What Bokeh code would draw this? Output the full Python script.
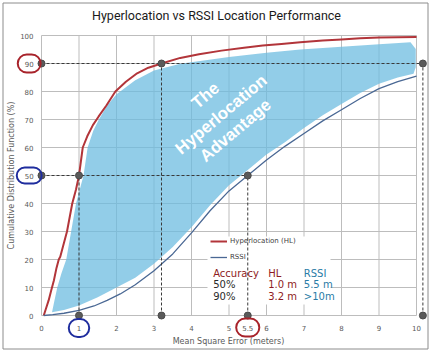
from bokeh.plotting import figure
from bokeh.models import Range1d, Label, Legend, LegendItem
from bokeh.core.properties import value
from bokeh.embed import file_html
from bokeh.resources import INLINE

# ---------------- data ----------------
title_text = "Hyperlocation vs RSSI Location Performance"
x_title = "Mean Square Error (meters)"
y_title = "Cumulative Distribution Function (%)"
x_ticks = [0, 1, 2, 3, 4, 5, 6, 7, 8, 9, 10]
y_ticks = [0, 10, 20, 30, 40, 50, 60, 70, 80, 90, 100]

hl_x = [0.06, 0.12, 0.19, 0.26, 0.33, 0.40, 0.46, 0.50, 0.58, 0.68, 0.75, 0.82, 0.92, 1.00,
        1.05, 1.10, 1.22, 1.37, 1.52, 1.73, 1.97, 2.25, 2.55, 2.85, 3.20, 3.70, 4.20, 4.80,
        5.40, 5.90, 6.40, 6.90, 7.50, 8.00, 8.50, 9.00, 9.50, 10.00]
hl_y = [0, 2.5, 5.4, 9, 12.5, 17, 20, 21, 25, 30, 35, 40, 45, 50,
        55, 60, 64, 68, 71, 75, 80, 83.5, 86.5, 88.5, 90, 92, 93.3, 94.6,
        95.6, 96.4, 97.0, 97.6, 98.2, 98.6, 99.0, 99.3, 99.4, 99.5]

rssi_x = [0.06, 0.30, 0.60, 1.00, 1.40, 1.75, 2.10, 2.50, 3.00, 3.50, 4.00, 4.50, 5.00,
          5.50, 6.00, 6.50, 7.00, 7.50, 8.00, 8.50, 9.00, 9.50, 10.00]
rssi_y = [0, 0.3, 0.8, 1.8, 3.4, 5.4, 7.7, 11, 16, 22, 29.5, 37.5, 44.5,
          50, 55.5, 60.5, 65, 69.5, 73.5, 77.5, 81, 83.5, 85.5]

# "The Hyperlocation Advantage" band: upper/left edge, then lower edge (right to left)
adv_upper_x = [0.28, 0.34, 0.42, 0.53, 0.66, 0.79, 0.92, 1.12, 1.23, 1.38, 1.53, 1.75, 2.00,
               2.50, 3.00, 3.70, 5.00, 6.00, 6.90, 8.00, 9.00, 9.84, 9.98, 9.98, 9.92]
adv_upper_y = [1.2, 5, 10, 15, 20, 30, 40, 50, 60, 66, 70, 75, 79,
               84, 87.5, 89.9, 92.3, 93.8, 95.0, 96.0, 96.9, 97.6, 95.2, 88.7, 86.3]
adv_lower_x = [9.50, 9.00, 8.50, 8.00, 7.50, 7.00, 6.50, 6.00, 5.50, 5.00, 4.50, 4.00,
               3.50, 3.00, 2.50, 2.00, 1.50, 1.00, 0.60]
adv_lower_y = [85.0, 82.8, 79.5, 75.5, 71.5, 67.0, 62.0, 57.5, 52.0, 46.5, 39.5, 31.5,
               24.5, 18.5, 13.5, 10.0, 6.5, 3.6, 2.0]

acc_pct = [50, 90]          # accuracy levels (%)
acc_hl = [1.0, 3.2]         # HL error at those levels (m)
acc_rssi = [5.5, 10.17]     # RSSI error at those levels (m), second is ">10"

table_head = ["Accuracy", "HL", "RSSI"]
table_rows = [["50%", "1.0 m", "5.5 m"], ["90%", "3.2 m", ">10m"]]
band_words = ["The", "Hyperlocation", "Advantage"]

# ---------------- layout helpers (canvas pixel -> data) ----------------
W, H = 431, 351
X0_PX, PX_X = 41.0, 37.5      # x=0 at 41px, 37.5 px per metre
Y0_PX, PX_Y = 315.0, 2.8      # y=0 at 315px, 2.8 px per percent


def dx(px):
    return (px - X0_PX) / PX_X


def dy(py):
    return (Y0_PX - py) / PX_Y


FONT = "DejaVu Sans"
p = figure(width=W, height=H, output_backend="svg", toolbar_location=None,
           x_axis_type=None, y_axis_type=None,
           x_range=Range1d(dx(0), dx(W)), y_range=Range1d(dy(H), dy(0)),
           min_border=0)
p.min_border_left = p.min_border_right = p.min_border_top = p.min_border_bottom = 0
p.outline_line_color = None
p.background_fill_color = "white"
p.border_fill_color = "white"

# outer frame of the chart
p.quad(left=dx(2.5), right=dx(427.5), top=dy(2.5), bottom=dy(348.5),
       fill_alpha=0, line_color="#8C8C8C", line_width=1)

# grid limited to the 0..10 / 0..100 box
grid_col = "#BDBDBD"
p.segment(x0=x_ticks, y0=[y_ticks[0]] * len(x_ticks), x1=x_ticks, y1=[y_ticks[-1]] * len(x_ticks),
          line_color=grid_col, line_width=1)
p.segment(x0=[x_ticks[0]] * len(y_ticks), y0=y_ticks, x1=[x_ticks[-1]] * len(y_ticks), y1=y_ticks,
          line_color=grid_col, line_width=1)

# advantage band
p.patch(x=adv_upper_x + adv_lower_x, y=adv_upper_y + adv_lower_y,
        fill_color="#6EBCE0", fill_alpha=0.75, line_color=None)

# white box behind legend and table
p.quad(left=dx(207), right=dx(330), bottom=dy(304), top=dy(236),
       fill_color="white", line_color=None)

r_hl = p.line(hl_x, hl_y, line_color="#B2353A", line_width=2)
r_rssi = p.line(rssi_x, rssi_y, line_color="#4A6894", line_width=1.3)

# dashed guides + dots
errs = acc_hl + acc_rssi
pcts = acc_pct + acc_pct
h_end = [max(a, b) for a, b in zip(acc_hl, acc_rssi)]
p.segment(x0=[0] * len(acc_pct), y0=acc_pct, x1=h_end, y1=acc_pct,
          line_color="#3A3A3A", line_dash="3 2", line_width=1)
p.segment(x0=errs, y0=[0] * len(errs), x1=errs, y1=pcts,
          line_color="#3A3A3A", line_dash="3 2", line_width=1)
p.scatter(x=[0] * len(acc_pct) + errs + errs, y=acc_pct + pcts + [0] * len(errs),
          size=7, fill_color="#5A5A5A", line_color="#4A4A4A")

# tick labels (values that get a ring are drawn further below)
circled_x = [acc_hl[0]]
circled_y = acc_pct
xt = [t for t in x_ticks if t not in circled_x]
yt = [t for t in y_ticks if t not in circled_y]
p.text(x=xt, y=[dy(327)] * len(xt), text=[str(t) for t in xt],
       text_font=value(FONT), text_font_size="7px", text_color="#595959",
       text_align="center", text_baseline="middle")
p.text(x=[dx(33)] * len(yt), y=yt, text=[str(t) for t in yt],
       text_font=value(FONT), text_font_size="7px", text_color="#595959",
       text_align="right", text_baseline="middle")

# axis titles
p.add_layout(Label(x=dx(228), y=dy(341), text=x_title, text_align="center",
                   text_baseline="middle", text_font=FONT, text_font_size="8px",
                   text_color="#595959"))
p.add_layout(Label(x=dx(11), y=dy(175), text=y_title, text_align="center",
                   text_baseline="middle", text_font=FONT, text_font_size="8px",
                   text_color="#595959", angle=90, angle_units="deg"))

# ringed values  (padding = (horizontal, vertical))
RED_RING = "#A8232B"
BLUE_RING = "#1F2D9E"
rings = [
    dict(x=acc_hl[0], y=dy(327.5), text="1", col=BLUE_RING, pad=(8, 6)),
    dict(x=acc_rssi[0], y=dy(327), text="5.5", col=RED_RING, pad=(6, 6)),
    dict(x=dx(28.7), y=acc_pct[0], text=str(acc_pct[0]), col=BLUE_RING, pad=(8, 5)),
    dict(x=dx(28.7), y=acc_pct[1], text=str(acc_pct[1]), col=RED_RING, pad=(7, 6)),
]
for c in rings:
    p.add_layout(Label(x=c["x"], y=c["y"], text=c["text"], text_align="center",
                       text_baseline="middle", text_font=FONT, text_font_size="7px",
                       text_color="#595959", border_line_color=c["col"], border_line_width=2,
                       border_radius=9, padding=c["pad"]))

# title
p.add_layout(Label(x=dx(216), y=dy(15), text=title_text,
                   text_align="center", text_baseline="middle",
                   text_font="Roboto", text_font_size="12.5px",
                   text_color="#1A1A1A"))

# legend
legend = Legend(items=[LegendItem(label="Hyperlocation (HL)", renderers=[r_hl]),
                       LegendItem(label="RSSI", renderers=[r_rssi])],
                location=(210, H - 263), padding=0, margin=0, spacing=4,
                glyph_width=17, glyph_height=12, label_height=12, label_standoff=3,
                label_text_font=FONT, label_text_font_size="7px",
                label_text_color="#404040", background_fill_alpha=0,
                border_line_color=None)
p.add_layout(legend)

# accuracy table
DARK_RED = "#8E1B22"
TEAL = "#2A7CA6"
col_px = [212.7, 267.7, 303.3]
row_py = [272.7, 284.3, 296.0]
head_cols = [DARK_RED, DARK_RED, TEAL]
body_cols = ["#2A2A2A", DARK_RED, TEAL]
for j, t in enumerate(table_head):
    p.add_layout(Label(x=dx(col_px[j]), y=dy(row_py[0]), text=t, text_baseline="middle",
                       text_font=FONT, text_font_size="10px", text_color=head_cols[j]))
for i, row in enumerate(table_rows):
    for j, t in enumerate(row):
        p.add_layout(Label(x=dx(col_px[j]), y=dy(row_py[i + 1]), text=t, text_baseline="middle",
                           text_font=FONT, text_font_size="10px", text_color=body_cols[j]))

# band text
band_px = [(205, 95), (220.7, 114), (235, 130)]
for w, (bx, by) in zip(band_words, band_px):
    p.add_layout(Label(x=dx(bx), y=dy(by), text=w, angle=40, angle_units="deg",
                       text_align="center", text_baseline="middle",
                       text_font="Liberation Sans", text_font_style="bold",
                       text_font_size="17px", text_color="white"))

open("out.html", "w").write(file_html(p, INLINE))
